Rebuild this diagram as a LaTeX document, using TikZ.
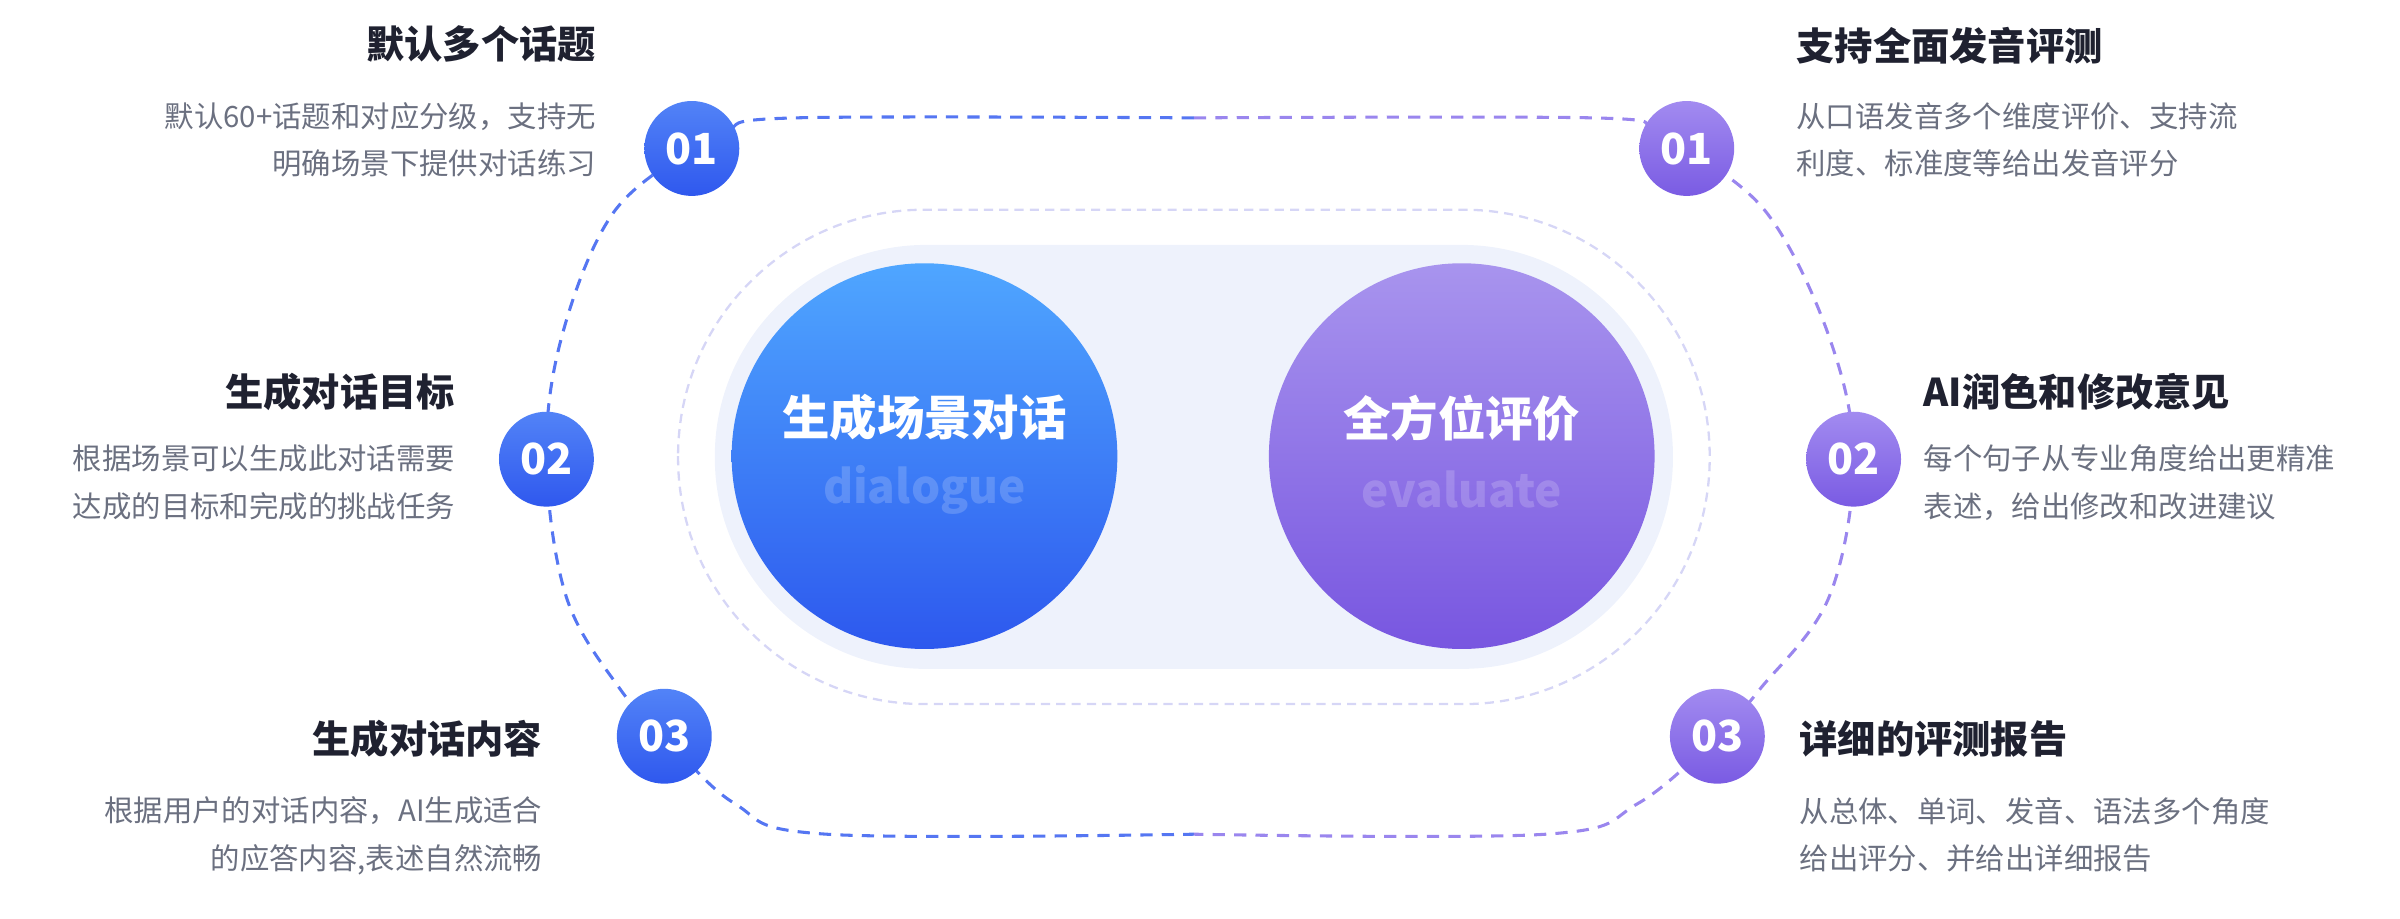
\documentclass[tikz,border=0pt]{standalone}
\usepackage{fontspec}
\setmainfont{Noto Sans CJK SC}
\usetikzlibrary{positioning}
\definecolor{titlec}{HTML}{1F2130}
\definecolor{bodyc}{HTML}{6B7080}
\definecolor{blueA}{HTML}{4FA6FF}
\definecolor{blueB}{HTML}{2D58EE}
\definecolor{purpA}{HTML}{A894EE}
\definecolor{purpB}{HTML}{7856E0}
\definecolor{badgeA}{HTML}{5283F7}
\definecolor{badgeB}{HTML}{2F58EE}
\definecolor{badgeC}{HTML}{A28BF0}
\definecolor{badgeD}{HTML}{7A5BE3}
\definecolor{panel}{HTML}{EEF2FC}
\definecolor{ringc}{HTML}{D6D6F6}
\definecolor{lineL}{HTML}{5576F2}
\definecolor{lineR}{HTML}{9A86EE}

\tikzset{every picture/.style={line width=0.75pt}}
\tikzset{
  badgeL/.style={circle,minimum size=31pt,inner sep=0pt,top color=badgeA,bottom color=badgeB,draw=none,text=white,font=\fontsize{14}{14}\selectfont\bfseries},
  badgeR/.style={circle,minimum size=31pt,inner sep=0pt,top color=badgeC,bottom color=badgeD,draw=none,text=white,font=\fontsize{14}{14}\selectfont\bfseries},
  title/.style={inner sep=0pt,text=titlec,font=\fontsize{12.5}{13}\selectfont\bfseries},
  body/.style={inner sep=0pt,text=bodyc,font=\fontsize{9.6}{15.5}\selectfont},
}

\begin{document}
\begin{tikzpicture}[x=0.5pt,y=0.5pt,yscale=-1,xscale=1]
		\useasboundingbox (0,0) rectangle (1568,600);

		%Outer dashed track
		\draw [lineL,dashed,dash pattern=on 4pt off 3pt,line width=1pt] plot [smooth,tension=0.6] coordinates {(780,77)(520,77)(475,85)(452,97)(400,140)(367,220)(357,300)(370,390)(405,450)(434,481)(480,525)(540,545)(780,545)};
		\draw [lineR,dashed,dash pattern=on 4pt off 3pt,line width=1pt] plot [smooth,tension=0.6] coordinates {(780,77)(1040,77)(1080,84)(1102,97)(1155,140)(1195,220)(1211,300)(1195,390)(1150,450)(1122,481)(1070,525)(1010,545)(780,545)};

		%Inner panel and ring
		\draw [ringc,dashed,dash pattern=on 3pt off 2pt,rounded corners=80.5pt] (443,137) rectangle (1117,460);
		\fill [panel,rounded corners=69pt] (467,160) rectangle (1093,437);

		%Main circles
		\node (dlg) [circle,minimum size=126pt,inner sep=0pt,top color=blueA,bottom color=blueB] at (604,298) {};
		\node (evl) [circle,minimum size=126pt,inner sep=0pt,top color=purpA,bottom color=purpB] at (955,298) {};
		\node [text=white,font=\fontsize{15.5}{16}\selectfont\bfseries] at (604,273) {生成场景对话};
		\node [text=white,opacity=0.18,font=\fontsize{15}{16}\selectfont\bfseries] at (604,320) {dialogue};
		\node [text=white,font=\fontsize{15.5}{16}\selectfont\bfseries] at (955,273) {全方位评价};
		\node [text=white,opacity=0.18,font=\fontsize{15}{16}\selectfont\bfseries] at (955,320) {evaluate};

		%Badges
		\node (l1) [badgeL] at (452,97) {01};
		\node (l2) [badgeL] at (357,300) {02};
		\node (l3) [badgeL] at (434,481) {03};
		\node (r1) [badgeR] at (1102,97) {01};
		\node (r2) [badgeR] at (1211,300) {02};
		\node (r3) [badgeR] at (1122,481) {03};

		%Left texts
		\node (lt1) [title,anchor=east] at (390,29) {默认多个话题};
		\node (lb1) [body,anchor=north east,align=right] at (390,66) {默认60+话题和对应分级，支持无\\明确场景下提供对话练习};
		\node (lt2) [title,anchor=east] at (298,256) {生成对话目标};
		\node (lb2) [body,anchor=north east,align=right] at (298,290) {根据场景可以生成此对话需要\\达成的目标和完成的挑战任务};
		\node (lt3) [title,anchor=east] at (355,483) {生成对话内容};
		\node (lb3) [body,anchor=north east,align=right] at (355,520) {根据用户的对话内容，AI生成适合\\的应答内容,表述自然流畅};

		%Right texts
		\node (rt1) [title,anchor=west] at (1173,30) {支持全面发音评测};
		\node (rb1) [body,anchor=north west,align=left] at (1173,66) {从口语发音多个维度评价、支持流\\利度、标准度等给出发音评分};
		\node (rt2) [title,anchor=west] at (1256,256) {AI润色和修改意见};
		\node (rb2) [body,anchor=north west,align=left] at (1256,290) {每个句子从专业角度给出更精准\\表述，给出修改和改进建议};
		\node (rt3) [title,anchor=west] at (1175,483) {详细的评测报告};
		\node (rb3) [body,anchor=north west,align=left] at (1175,520) {从总体、单词、发音、语法多个角度\\给出评分、并给出详细报告};
\end{tikzpicture}
\end{document}
